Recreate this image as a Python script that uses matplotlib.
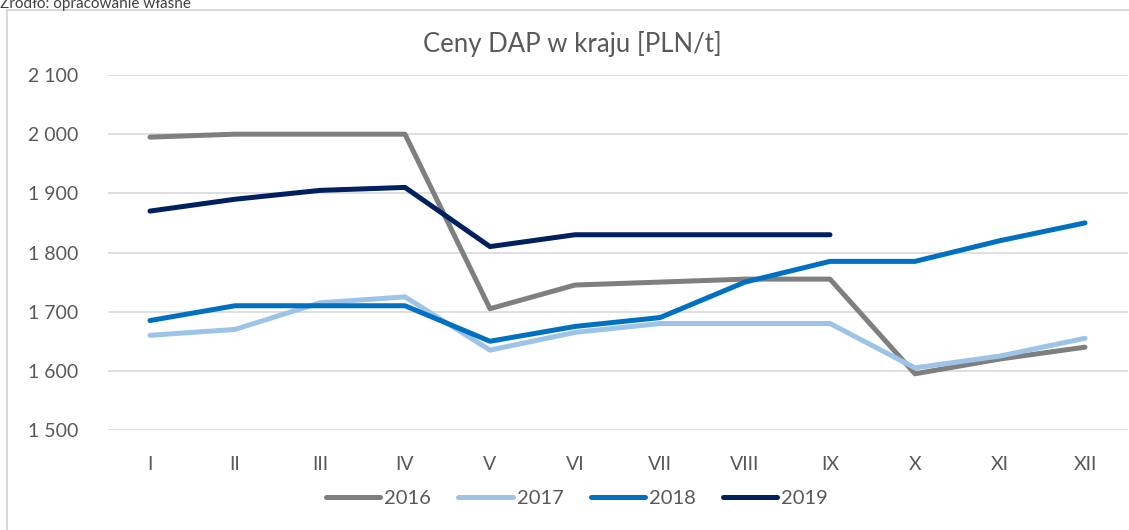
import matplotlib
matplotlib.use("Agg")
import matplotlib.pyplot as plt
from matplotlib.patches import Rectangle

months = ["I", "II", "III", "IV", "V", "VI", "VII", "VIII", "IX", "X", "XI", "XII"]
p2016 = [1995, 2000, 2000, 2000, 1705, 1745, 1750, 1755, 1755, 1595, 1620, 1640]
p2017 = [1660, 1670, 1715, 1725, 1635, 1665, 1680, 1680, 1680, 1605, 1625, 1655]
p2018 = [1685, 1710, 1710, 1710, 1650, 1675, 1690, 1750, 1785, 1785, 1820, 1850]
p2019 = [1870, 1890, 1905, 1910, 1810, 1830, 1830, 1830, 1830]
yticks = [1500, 1600, 1700, 1800, 1900, 2000, 2100]

series = [
    ("2016", p2016, "#7f7f7f"),
    ("2017", p2017, "#9dc3e6"),
    ("2018", p2018, "#0070c0"),
    ("2019", p2019, "#002060"),
]

plt.rcParams["font.family"] = ["Lato", "DejaVu Sans"]
text_col = "#595959"

fig = plt.figure(figsize=(11.29, 5.30), dpi=100)
ax = fig.add_axes([107.5 / 1129, 100 / 530, 1020 / 1129, 355 / 530])

for name, vals, col in series:
    ax.plot(range(len(vals)), vals, color=col, linewidth=3.6,
            solid_capstyle="round", solid_joinstyle="round", label=name)

ax.set_xlim(-0.5, 11.5)
ax.set_ylim(1500, 2100)
ax.set_yticks(yticks)
ax.set_yticklabels([f"{v // 1000} {v % 1000:03d}" for v in yticks])
ax.set_xticks(range(len(months)))
ax.set_xticklabels(months)
ax.tick_params(axis="both", length=0, labelsize=14, labelcolor=text_col)
ax.tick_params(axis="y", pad=21)
ax.tick_params(axis="x", pad=19)
ax.grid(axis="y", color="#d9d9d9", linewidth=1.2)
ax.set_axisbelow(True)
for s in ax.spines.values():
    s.set_visible(False)

fig.text(572 / 1129, 1 - 44 / 530, "Ceny DAP w kraju [PLN/t]", ha="center",
         va="center", fontsize=18.5, color=text_col)

fig.legend(loc="center", bbox_to_anchor=(577 / 1129, 1 - 498 / 530), ncol=4,
           frameon=False, fontsize=14.5, labelcolor=text_col, handlelength=2.7,
           handletextpad=0.2, columnspacing=1.35)

fig.text(0.0, 1 - 8 / 530, "Źródło: opracowanie własne", ha="left",
         va="baseline", fontsize=11, color="#404040")

fig.patches.append(Rectangle((7 / 1129, -0.05), 1.2, (530 - 10) / 530 + 0.05,
                             transform=fig.transFigure, fill=False,
                             edgecolor="#d9d9d9", linewidth=1.5))

fig.savefig("out.png", dpi=100)
